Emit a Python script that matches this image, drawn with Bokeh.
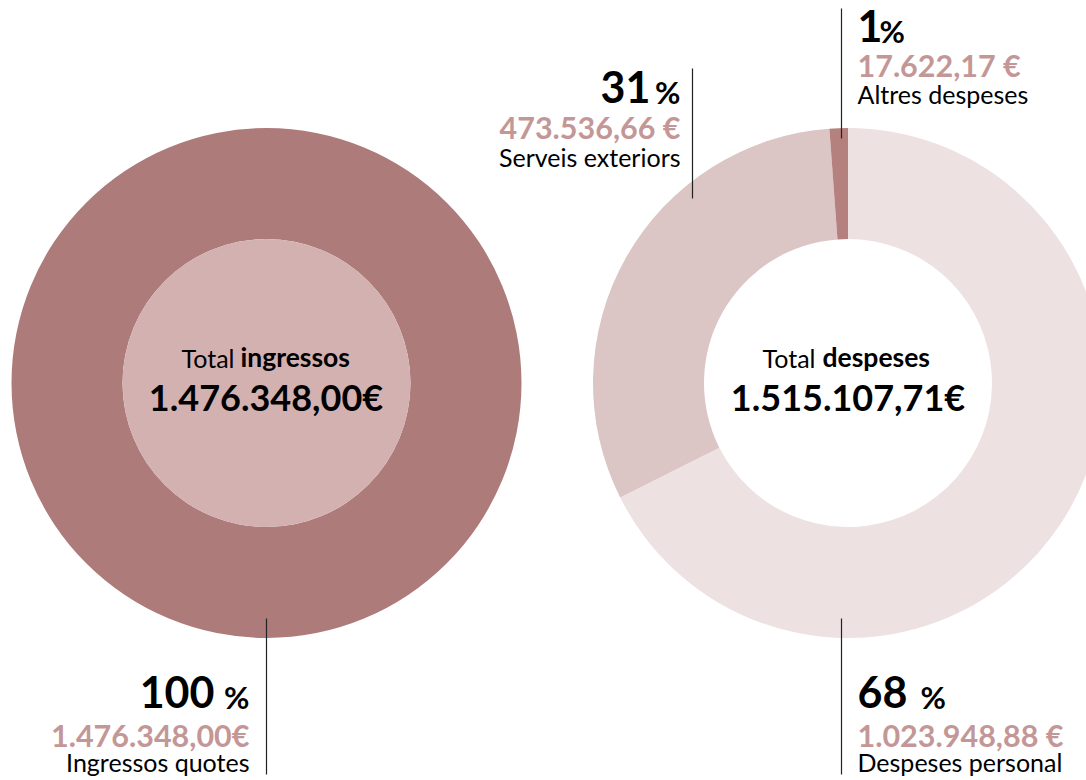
from bokeh.plotting import figure
from bokeh.models import Range1d, ColumnDataSource
from bokeh.embed import file_html
from bokeh.resources import INLINE
from bokeh.core.properties import value
import numpy as np

# ---------------- data ----------------
income_categories = ["Ingressos quotes"]
income_values = [1476348.00]
income_pct = ["100"]
income_value_labels = ["1.476.348,00€"]
total_income_label = "1.476.348,00€"

expense_categories = ["Despeses personal", "Serveis exteriors", "Altres despeses"]
expense_values = [1023948.88, 473536.66, 17622.17]
expense_pct = ["68", "31", "1"]
expense_value_labels = ["1.023.948,88 €", "473.536,66 €", "17.622,17 €"]
total_expense_label = "1.515.107,71€"

# ---------------- style ----------------
income_ring_color = "#ad7b7a"
income_core_color = "#d3b1b1"
expense_colors = ["#ede1e1", "#dcc5c5", "#b5817f"]
value_color = "#c49797"
FONT = value("Lato")

W, H = 1086, 780


def sx(X):
    return X


def sy(Y):
    return H - Y


p = figure(width=W, height=H, output_backend="svg", toolbar_location=None,
           x_range=Range1d(0, W), y_range=Range1d(0, H), min_border=0)
p.axis.visible = False
p.grid.visible = False
p.outline_line_color = None
p.background_fill_color = "white"

R_OUT, R_IN = 255.0, 144.0
c_in = (sx(266), sy(382.5))
c_ex = (sx(847.5), sy(382.5))

# income donut (single category = 100%)
p.annulus(x=[c_in[0]], y=[c_in[1]], inner_radius=R_IN, outer_radius=R_OUT,
          fill_color=income_ring_color, line_color=None)
p.circle(x=[c_in[0]], y=[c_in[1]], radius=R_IN, fill_color=income_core_color,
         line_color=None)

# expense donut
ev = np.array(expense_values)
angles = ev / ev.sum() * 2 * np.pi
cum = np.concatenate([[0], np.cumsum(angles)])
starts = np.pi / 2 - cum[:-1]
ends = np.pi / 2 - cum[1:]
src = ColumnDataSource(dict(x=[c_ex[0]] * len(ev), y=[c_ex[1]] * len(ev),
                            start=starts, end=ends, color=expense_colors))
p.annular_wedge(x="x", y="y", inner_radius=R_IN, outer_radius=R_OUT,
                start_angle="start", end_angle="end", direction="clock",
                fill_color="color", line_color=None, source=src)

# leader lines
lines = [((266, 618), (266, 774)), ((841, 618), (841, 774)),
         ((841, 8), (841, 138)), ((692, 68), (692, 198))]
p.segment(x0=[sx(a[0]) for a, b in lines], y0=[sy(a[1]) for a, b in lines],
          x1=[sx(b[0]) for a, b in lines], y1=[sy(b[1]) for a, b in lines],
          line_color="#222222", line_width=1.2)

BASE_K = 0.38  # renderer places the alphabetic baseline ~0.38em low


def txt(X, Y, s, size, bold=False, color="black", align="left"):
    p.text(x=[sx(X)], y=[sy(Y - BASE_K * size)], text=[s], text_font=FONT,
           text_font_size=f"{size}px",
           text_font_style="bold" if bold else "normal",
           text_color=color, text_align=align, text_baseline="alphabetic")


NUM, PCT, VAL, NAME = 43, 31, 30.5, 25

# income
txt(214, 708, income_pct[0], NUM, True, align="right")
txt(249, 708, "%", PCT, True, align="right")
txt(249, 746, income_value_labels[0], VAL, True, value_color, "right")
txt(249, 771, income_categories[0], NAME, align="right")

# despeses personal
txt(857, 708, expense_pct[0], NUM, True, align="left")
txt(920, 708, "%", PCT, True, align="left")
txt(857, 746, expense_value_labels[0], VAL, True, value_color, "left")
txt(857, 771, expense_categories[0], NAME, align="left")

# serveis exteriors
txt(650, 103, expense_pct[1], NUM, True, align="right")
txt(680, 103, "%", PCT, True, align="right")
txt(680, 138, expense_value_labels[1], VAL, True, value_color, "right")
txt(680, 166, expense_categories[1], NAME, align="right")

# altres despeses
txt(857, 42, expense_pct[2], NUM, True, align="left")
txt(879, 42, "%", PCT, True, align="left")
txt(857, 76, expense_value_labels[2], VAL, True, value_color, "left")
txt(857, 103, expense_categories[2], NAME, align="left")

# centre totals
txt(234, 367, "Total", 25, align="right")
txt(240, 367, "ingressos", 26.5, True, align="left")
txt(265.5, 410, total_income_label, 36, True, align="center")
txt(815, 367, "Total", 25, align="right")
txt(822, 367, "despeses", 26.5, True, align="left")
txt(847.5, 410, total_expense_label, 36, True, align="center")

open("out.html", "w").write(file_html(p, INLINE))
